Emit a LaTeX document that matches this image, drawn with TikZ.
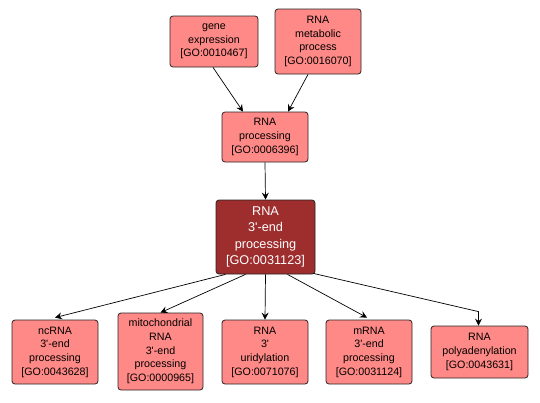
\documentclass[tikz,border=0pt]{standalone}
\usepackage{fontspec}
\setmainfont{Liberation Sans}
\usepackage{xcolor}
\definecolor{termfill}{RGB}{255,137,134}
\definecolor{hitfill}{RGB}{158,45,45}
\definecolor{termline}{RGB}{40,35,35}
\usetikzlibrary{arrows.meta}
\tikzset{
  term/.style={draw=termline, fill=termfill, rounded corners=3pt, line width=0.8pt,
               align=center, inner sep=2pt,
               font=\fontsize{10.7}{13.7}\selectfont},
  hit/.style={term, fill=hitfill, text=white,
              font=\fontsize{12.7}{16.3}\selectfont},
  isa/.style={draw=black, line width=0.7pt, -{Stealth[length=7pt,width=7pt,inset=2.5pt]}},
}

\begin{document}
\begin{tikzpicture}[x=1pt,y=-1pt]
\useasboundingbox[fill=white] (0,0) rectangle (540,402);
% parents
\node[term, minimum width=88pt, minimum height=51pt] (ge) at (214,41.5)
  {gene\\expression\\{[GO:0010467]}};
\node[term, minimum width=86pt, minimum height=65pt] (rmp) at (318,41.5)
  {RNA\\metabolic\\process\\{[GO:0016070]}};
\node[term, minimum width=86pt, minimum height=50pt] (rp) at (265,137)
  {RNA\\processing\\{[GO:0006396]}};
% the term itself
\node[hit, minimum width=99pt, minimum height=74pt] (e3) at (265.5,237)
  {RNA\\3\textquotesingle-end\\processing\\{[GO:0031123]}};
% children
\node[term, minimum width=86pt, minimum height=64pt] (nc) at (55,352)
  {ncRNA\\3\textquotesingle-end\\processing\\{[GO:0043628]}};
\node[term, minimum width=85pt, minimum height=77pt] (mt) at (160.5,351.5)
  {mitochondrial\\RNA\\3\textquotesingle-end\\processing\\{[GO:0000965]}};
\node[term, minimum width=86pt, minimum height=64pt] (ur) at (265,352)
  {RNA\\3\textquotesingle\\uridylation\\{[GO:0071076]}};
\node[term, minimum width=86pt, minimum height=64pt] (mr) at (369,352)
  {mRNA\\3\textquotesingle-end\\processing\\{[GO:0031124]}};
\node[term, minimum width=97pt, minimum height=52pt] (pa) at (479.5,352)
  {RNA\\polyadenylation\\{[GO:0043631]}};

\draw[isa] ([xshift=-1pt]ge.south) -- ([xshift=-22pt]rp.north);
\draw[isa] ([xshift=-10pt]rmp.south) -- ([xshift=23pt]rp.north);
\draw[isa] (rp.south) -- (e3.north);
\draw[isa] ([xshift=-40pt]e3.south) -- ([yshift=2pt]nc.north);
\draw[isa] ([xshift=-20pt]e3.south) -- (mt.north);
\draw[isa] (e3.south) -- (ur.north);
\draw[isa] ([xshift=22pt]e3.south) -- ([xshift=-2pt,yshift=2pt]mr.north);
\draw[isa] ([xshift=-2pt,yshift=1pt]e3.south east) -- ([xshift=-1pt,yshift=14pt]pa.north)
  -- ([xshift=-1pt]pa.north);
\end{tikzpicture}
\end{document}
